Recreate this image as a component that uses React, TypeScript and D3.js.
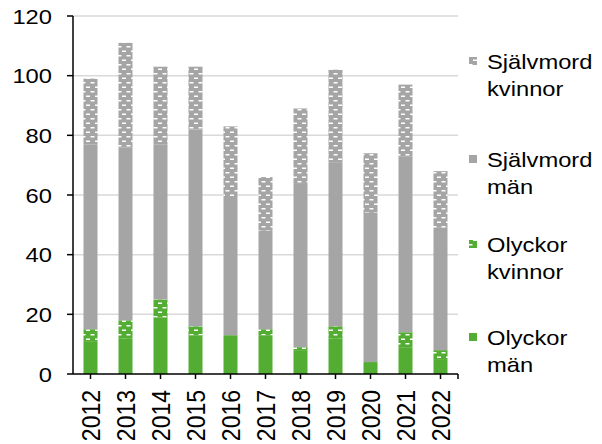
import React from 'react';
import * as d3 from 'd3';

const years = ['2012', '2013', '2014', '2015', '2016', '2017', '2018', '2019', '2020', '2021', '2022'];
const olyckorMan = [11, 12, 19, 13, 13, 13, 8, 12, 4, 9, 5];
const olyckorKvinnor = [4, 6, 6, 3, 0, 2, 1, 4, 0, 5, 3];
const sjalvmordMan = [62, 58, 52, 66, 46, 33, 55, 55, 50, 59, 41];
const sjalvmordKvinnor = [22, 35, 26, 21, 24, 18, 25, 31, 20, 24, 19];
const yTicks = [0, 20, 40, 60, 80, 100, 120];

const seriesKeys = ['olyckorMan', 'olyckorKvinnor', 'sjalvmordMan', 'sjalvmordKvinnor'];
const legendLabels = [
  ['Självmord', 'kvinnor'],
  ['Självmord', 'män'],
  ['Olyckor', 'kvinnor'],
  ['Olyckor', 'män'],
];

const GREY = '#a5a5a5';
const GREEN = '#52ad32';
const FONT = "'Liberation Sans', Arial, sans-serif";
const SX = 1.13; // text in the picture is a little wider than tall

const fills: Record<string, string> = {
  olyckorMan: GREEN,
  olyckorKvinnor: 'url(#patGreen)',
  sjalvmordMan: GREY,
  sjalvmordKvinnor: 'url(#patGrey)',
};

export default function App() {
  const width = 602, height = 444;
  const left = 73, right = 458, top = 16, bottom = 374;

  const table = years.map((y, i) => ({
    year: y,
    olyckorMan: olyckorMan[i],
    olyckorKvinnor: olyckorKvinnor[i],
    sjalvmordMan: sjalvmordMan[i],
    sjalvmordKvinnor: sjalvmordKvinnor[i],
  }));
  const stacked = d3.stack<any>().keys(seriesKeys)(table);

  const x = d3.scaleBand().domain(years).range([left, right]).paddingInner(0.6).paddingOuter(0.3);
  const y = d3.scaleLinear().domain([0, 120]).range([bottom, top]);

  const legendY = [61, 159, 244, 337];
  const legendFill = [fills.sjalvmordKvinnor, fills.sjalvmordMan, fills.olyckorKvinnor, fills.olyckorMan];

  return (
    <svg width={width} height={height} style={{ position: 'absolute', left: 0, top: 0, background: '#fff' }}>
      <defs>
        <pattern id="patGrey" patternUnits="userSpaceOnUse" width="9" height="9">
          <rect width="9" height="9" fill={GREY} />
          <rect x="0.5" y="1" width="4" height="1.5" fill="#fff" />
          <rect x="5" y="5.5" width="4" height="1.5" fill="#fff" />
        </pattern>
        <pattern id="patGreen" patternUnits="userSpaceOnUse" width="9" height="9">
          <rect width="9" height="9" fill={GREEN} />
          <rect x="0.5" y="1" width="4" height="1.5" fill="#fff" />
          <rect x="5" y="5.5" width="4" height="1.5" fill="#fff" />
        </pattern>
      </defs>

      {/* gridlines */}
      {yTicks.filter(t => t > 0).map(t => (
        <line key={t} x1={left} x2={right} y1={y(t)} y2={y(t)} stroke="#d9d9d9" strokeWidth={1.5} />
      ))}

      {/* bars */}
      {stacked.map(s => (
        <g key={s.key} fill={fills[s.key]}>
          {s.map((d, i) => (
            <rect key={i} x={x(years[i])} width={x.bandwidth()} y={y(d[1])} height={Math.max(0, y(d[0]) - y(d[1]))} />
          ))}
        </g>
      ))}

      {/* y axis */}
      <line x1={left} x2={left} y1={top} y2={bottom} stroke="#000" strokeWidth={1.5} />
      {yTicks.map(t => (
        <g key={t}>
          <line x1={left - 6} x2={left} y1={y(t)} y2={y(t)} stroke="#000" strokeWidth={1.5} />
          <text transform={`translate(52,${y(t)}) scale(${SX},1)`} dy="0.36em" textAnchor="end"
            fontFamily={FONT} fontSize={21} fill="#000">{t}</text>
        </g>
      ))}

      {/* x axis */}
      <line x1={left} x2={right} y1={bottom} y2={bottom} stroke="#000" strokeWidth={1.5} />
      {years.map(yr => {
        const cx = (x(yr) as number) + x.bandwidth() / 2;
        return (
          <g key={yr}>
            <line x1={cx} x2={cx} y1={bottom} y2={bottom + 5} stroke="#000" strokeWidth={1.5} />
            <text transform={`translate(${cx},390) scale(${SX},1) rotate(-90)`} dy="0.36em" textAnchor="end"
              fontFamily={FONT} fontSize={23} fill="#000">{yr}</text>
          </g>
        );
      })}
      <line x1={right} x2={right} y1={bottom} y2={bottom + 5} stroke="#000" strokeWidth={1.5} />

      {/* legend */}
      {legendLabels.map((lab, i) => (
        <g key={i}>
          <rect x={469} y={legendY[i] - 4} width={8} height={8} fill={legendFill[i]} />
          <text transform={`translate(487,${legendY[i] + 7.5}) scale(${SX},1)`} fontFamily={FONT} fontSize={21} fill="#000">
            <tspan x={0} dy={0}>{lab[0]}</tspan>
            <tspan x={0} dy={28}>{lab[1]}</tspan>
          </text>
        </g>
      ))}
    </svg>
  );
}
